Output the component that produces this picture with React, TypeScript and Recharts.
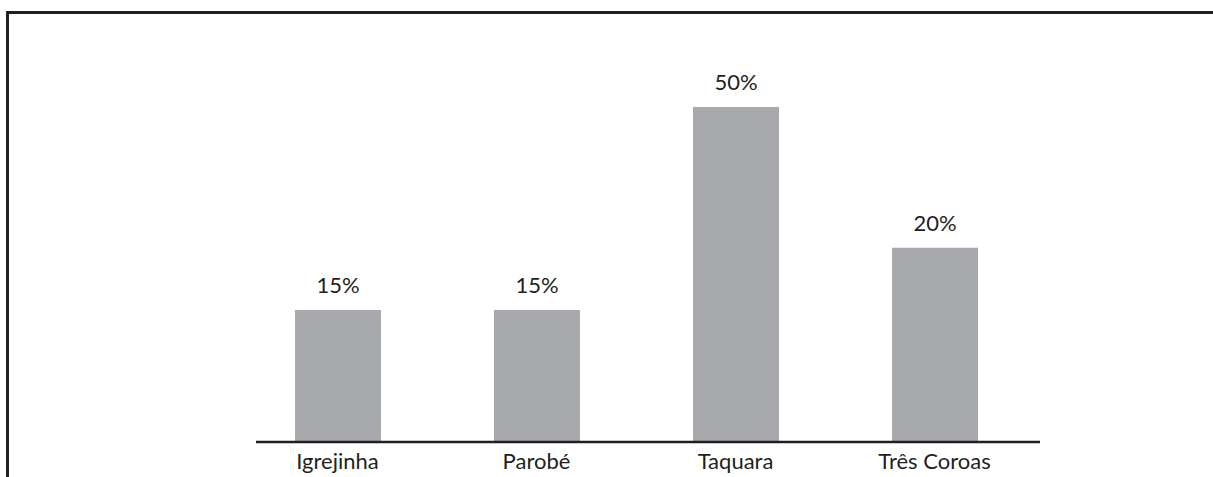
import React from 'react';
import { BarChart, Bar, XAxis, YAxis, LabelList } from 'recharts';

// cities along the x axis
const cities = ['Igrejinha', 'Parobé', 'Taquara', 'Três Coroas'];
// bar heights as drawn in the picture (not to scale with the printed labels)
const barHeights = [19.7, 19.7, 50, 29];
// percentages printed above the bars
const percentLabels = ['15%', '15%', '50%', '20%'];

const data = cities.map((city, i) => ({
  city,
  value: barHeights[i],
  label: percentLabels[i],
}));

const ink = '#231f20';
const font = 'Lato, "Open Sans", sans-serif';

const App: React.FC = () => {
  return (
    <div style={{ position: 'absolute', left: 0, top: 0, width: 1213, height: 477, background: '#fff' }}>
      {/* frame: only top and left edges show */}
      <div
        style={{
          position: 'absolute',
          left: 6,
          top: 11,
          width: 1207,
          height: 466,
          borderTop: `3px solid ${ink}`,
          borderLeft: `3px solid ${ink}`,
          boxSizing: 'border-box',
        }}
      />
      <div style={{ position: 'absolute', left: 0, top: 0 }}>
        <BarChart
          width={1213}
          height={477}
          data={data}
          margin={{ top: 40, right: 173, bottom: 5, left: 256 }}
          barCategoryGap={0}
        >
          <XAxis
            dataKey="city"
            axisLine={{ stroke: ink, strokeWidth: 2.5 }}
            tickLine={false}
            tickSize={6}
            tickMargin={5}
            padding={{ left: -18, right: 6 }}
            tick={{ fill: ink, fontSize: 22, fontFamily: font }}
            interval={0}
          />
          <YAxis domain={[0, 60]} hide />
          <Bar dataKey="value" fill="#a7a9ac" barSize={86} isAnimationActive={false}>
            <LabelList
              dataKey="label"
              position="top"
              offset={17}
              fill={ink}
              style={{ fontSize: 22, fontFamily: font }}
            />
          </Bar>
        </BarChart>
      </div>
    </div>
  );
};

export default App;
